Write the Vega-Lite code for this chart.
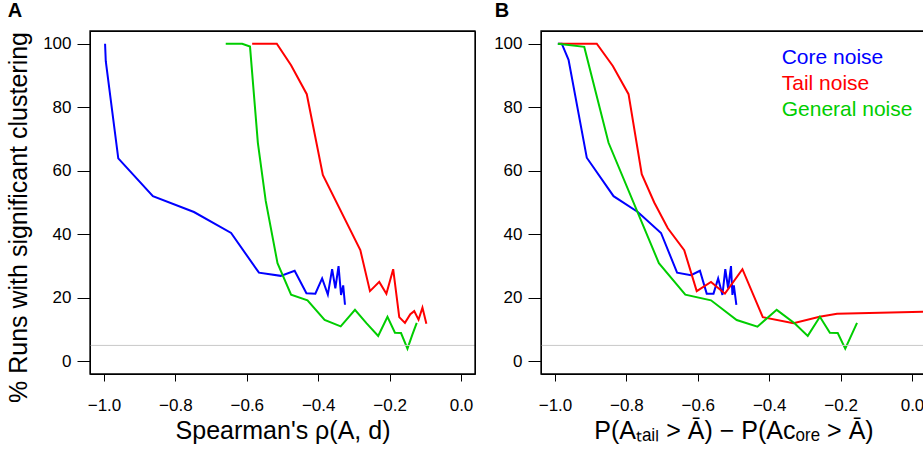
{
  "$schema": "https://vega.github.io/schema/vega-lite/v6.json",
  "padding": {"left": 6, "top": 0, "right": 0, "bottom": 0},
  "background": "white",
  "spacing": 16,
  "config": {
    "font": "Liberation Sans",
    "view": {"stroke": "black", "strokeWidth": 1},
    "axis": {"domain": false, "grid": false, "tickColor": "black", "tickWidth": 1, "labelColor": "black", "labelFontSize": 17, "labelFont": "Liberation Sans", "titleFont": "Liberation Sans", "titleFontSize": 25, "titleFontWeight": "normal", "titleColor": "black", "labelOverlap": false},
    "axisX": {"tickSize": 7, "labelPadding": 16, "titlePadding": 5},
    "axisY": {"tickSize": 13, "labelPadding": 6, "titlePadding": 11},
    "title": {"font": "Liberation Sans", "fontSize": 20, "fontWeight": "bold", "anchor": "start", "color": "black"}
  },
  "datasets": {
    "curves": [
      {"p":"A","n":"Core noise","i":1,"x":-0.997,"y":100},
      {"p":"A","n":"Core noise","i":2,"x":-0.995,"y":94.5},
      {"p":"A","n":"Core noise","i":3,"x":-0.960,"y":63.9},
      {"p":"A","n":"Core noise","i":4,"x":-0.863,"y":52},
      {"p":"A","n":"Core noise","i":5,"x":-0.748,"y":47},
      {"p":"A","n":"Core noise","i":6,"x":-0.644,"y":40.4},
      {"p":"A","n":"Core noise","i":7,"x":-0.566,"y":27.9},
      {"p":"A","n":"Core noise","i":8,"x":-0.505,"y":26.9},
      {"p":"A","n":"Core noise","i":9,"x":-0.466,"y":28.5},
      {"p":"A","n":"Core noise","i":10,"x":-0.433,"y":21.4},
      {"p":"A","n":"Core noise","i":11,"x":-0.408,"y":21.3},
      {"p":"A","n":"Core noise","i":12,"x":-0.389,"y":26.1},
      {"p":"A","n":"Core noise","i":13,"x":-0.373,"y":21},
      {"p":"A","n":"Core noise","i":14,"x":-0.361,"y":29},
      {"p":"A","n":"Core noise","i":15,"x":-0.352,"y":23},
      {"p":"A","n":"Core noise","i":16,"x":-0.343,"y":30},
      {"p":"A","n":"Core noise","i":17,"x":-0.336,"y":20.9},
      {"p":"A","n":"Core noise","i":18,"x":-0.330,"y":23.9},
      {"p":"A","n":"Core noise","i":19,"x":-0.325,"y":17.8},
      {"p":"A","n":"Tail noise","i":1,"x":-0.585,"y":100},
      {"p":"A","n":"Tail noise","i":2,"x":-0.516,"y":100},
      {"p":"A","n":"Tail noise","i":3,"x":-0.476,"y":93.2},
      {"p":"A","n":"Tail noise","i":4,"x":-0.432,"y":84.1},
      {"p":"A","n":"Tail noise","i":5,"x":-0.387,"y":58.7},
      {"p":"A","n":"Tail noise","i":6,"x":-0.282,"y":35},
      {"p":"A","n":"Tail noise","i":7,"x":-0.255,"y":22.1},
      {"p":"A","n":"Tail noise","i":8,"x":-0.229,"y":25},
      {"p":"A","n":"Tail noise","i":9,"x":-0.209,"y":21.3},
      {"p":"A","n":"Tail noise","i":10,"x":-0.190,"y":29},
      {"p":"A","n":"Tail noise","i":11,"x":-0.173,"y":13.9},
      {"p":"A","n":"Tail noise","i":12,"x":-0.157,"y":12.1},
      {"p":"A","n":"Tail noise","i":13,"x":-0.142,"y":14.8},
      {"p":"A","n":"Tail noise","i":14,"x":-0.131,"y":15.8},
      {"p":"A","n":"Tail noise","i":15,"x":-0.119,"y":13.1},
      {"p":"A","n":"Tail noise","i":16,"x":-0.108,"y":16.9},
      {"p":"A","n":"Tail noise","i":17,"x":-0.097,"y":11.8},
      {"p":"A","n":"General noise","i":1,"x":-0.659,"y":100},
      {"p":"A","n":"General noise","i":2,"x":-0.613,"y":100},
      {"p":"A","n":"General noise","i":3,"x":-0.591,"y":99.1},
      {"p":"A","n":"General noise","i":4,"x":-0.569,"y":68.8},
      {"p":"A","n":"General noise","i":5,"x":-0.547,"y":50.5},
      {"p":"A","n":"General noise","i":6,"x":-0.514,"y":30.9},
      {"p":"A","n":"General noise","i":7,"x":-0.476,"y":21},
      {"p":"A","n":"General noise","i":8,"x":-0.430,"y":19.2},
      {"p":"A","n":"General noise","i":9,"x":-0.382,"y":13},
      {"p":"A","n":"General noise","i":10,"x":-0.337,"y":11},
      {"p":"A","n":"General noise","i":11,"x":-0.297,"y":16.2},
      {"p":"A","n":"General noise","i":12,"x":-0.265,"y":12},
      {"p":"A","n":"General noise","i":13,"x":-0.232,"y":8},
      {"p":"A","n":"General noise","i":14,"x":-0.206,"y":14},
      {"p":"A","n":"General noise","i":15,"x":-0.185,"y":9},
      {"p":"A","n":"General noise","i":16,"x":-0.168,"y":8.9},
      {"p":"A","n":"General noise","i":17,"x":-0.150,"y":4},
      {"p":"A","n":"General noise","i":18,"x":-0.136,"y":8.5},
      {"p":"A","n":"General noise","i":19,"x":-0.124,"y":12.1},
      {"p":"B","n":"Core noise","i":1,"x":-0.992,"y":100},
      {"p":"B","n":"Core noise","i":2,"x":-0.981,"y":100},
      {"p":"B","n":"Core noise","i":3,"x":-0.962,"y":94.9},
      {"p":"B","n":"Core noise","i":4,"x":-0.911,"y":64.1},
      {"p":"B","n":"Core noise","i":5,"x":-0.836,"y":52},
      {"p":"B","n":"Core noise","i":6,"x":-0.768,"y":47},
      {"p":"B","n":"Core noise","i":7,"x":-0.703,"y":40.4},
      {"p":"B","n":"Core noise","i":8,"x":-0.658,"y":27.9},
      {"p":"B","n":"Core noise","i":9,"x":-0.619,"y":27.1},
      {"p":"B","n":"Core noise","i":10,"x":-0.594,"y":28.5},
      {"p":"B","n":"Core noise","i":11,"x":-0.575,"y":21.3},
      {"p":"B","n":"Core noise","i":12,"x":-0.556,"y":21.3},
      {"p":"B","n":"Core noise","i":13,"x":-0.543,"y":26.1},
      {"p":"B","n":"Core noise","i":14,"x":-0.531,"y":20.9},
      {"p":"B","n":"Core noise","i":15,"x":-0.523,"y":29},
      {"p":"B","n":"Core noise","i":16,"x":-0.515,"y":23},
      {"p":"B","n":"Core noise","i":17,"x":-0.507,"y":30},
      {"p":"B","n":"Core noise","i":18,"x":-0.503,"y":20.9},
      {"p":"B","n":"Core noise","i":19,"x":-0.499,"y":23.9},
      {"p":"B","n":"Core noise","i":20,"x":-0.492,"y":17.8},
      {"p":"B","n":"Tail noise","i":1,"x":-0.990,"y":100},
      {"p":"B","n":"Tail noise","i":2,"x":-0.883,"y":100},
      {"p":"B","n":"Tail noise","i":3,"x":-0.838,"y":93},
      {"p":"B","n":"Tail noise","i":4,"x":-0.794,"y":84.1},
      {"p":"B","n":"Tail noise","i":5,"x":-0.757,"y":58.9},
      {"p":"B","n":"Tail noise","i":6,"x":-0.722,"y":50},
      {"p":"B","n":"Tail noise","i":7,"x":-0.684,"y":41.9},
      {"p":"B","n":"Tail noise","i":8,"x":-0.638,"y":35},
      {"p":"B","n":"Tail noise","i":9,"x":-0.603,"y":22.1},
      {"p":"B","n":"Tail noise","i":10,"x":-0.563,"y":25},
      {"p":"B","n":"Tail noise","i":11,"x":-0.524,"y":21.3},
      {"p":"B","n":"Tail noise","i":12,"x":-0.475,"y":29},
      {"p":"B","n":"Tail noise","i":13,"x":-0.418,"y":13.9},
      {"p":"B","n":"Tail noise","i":14,"x":-0.332,"y":12},
      {"p":"B","n":"Tail noise","i":15,"x":-0.259,"y":14},
      {"p":"B","n":"Tail noise","i":16,"x":-0.210,"y":15},
      {"p":"B","n":"Tail noise","i":17,"x":0.040,"y":15.6},
      {"p":"B","n":"General noise","i":1,"x":-0.992,"y":100},
      {"p":"B","n":"General noise","i":2,"x":-0.918,"y":99},
      {"p":"B","n":"General noise","i":3,"x":-0.850,"y":68.8},
      {"p":"B","n":"General noise","i":4,"x":-0.709,"y":30.9},
      {"p":"B","n":"General noise","i":5,"x":-0.635,"y":21},
      {"p":"B","n":"General noise","i":6,"x":-0.563,"y":19.2},
      {"p":"B","n":"General noise","i":7,"x":-0.491,"y":13},
      {"p":"B","n":"General noise","i":8,"x":-0.433,"y":10.9},
      {"p":"B","n":"General noise","i":9,"x":-0.379,"y":16.2},
      {"p":"B","n":"General noise","i":10,"x":-0.329,"y":12},
      {"p":"B","n":"General noise","i":11,"x":-0.292,"y":8},
      {"p":"B","n":"General noise","i":12,"x":-0.258,"y":14},
      {"p":"B","n":"General noise","i":13,"x":-0.230,"y":9},
      {"p":"B","n":"General noise","i":14,"x":-0.208,"y":8.9},
      {"p":"B","n":"General noise","i":15,"x":-0.187,"y":4},
      {"p":"B","n":"General noise","i":16,"x":-0.154,"y":12.1}
    ]
  },
  "hconcat": [
    {
      "width": 385,
      "height": 343,
      "title": {"text": "A", "dx": 1, "offset": 9},
      "layer": [
        {
          "data": {"name": "curves"},
          "transform": [{"filter": "datum.p === 'A'"}],
          "mark": {"type": "line", "strokeWidth": 2, "clip": true},
          "encoding": {
            "x": {"field": "x", "type": "quantitative", "scale": {"domain": [-1.0392, 0.0392], "nice": false, "zero": false}, "axis": {"title": "Spearman's ρ(A, d)", "values": [-1, -0.8, -0.6, -0.4, -0.2, 0], "format": ".1f"}},
            "y": {"field": "y", "type": "quantitative", "scale": {"domain": [-4, 104], "nice": false}, "axis": {"title": "% Runs with significant clustering", "titleY": 186, "values": [0, 20, 40, 60, 80, 100]}},
            "color": {"field": "n", "type": "nominal", "scale": {"domain": ["Core noise", "Tail noise", "General noise"], "range": ["#0000ff", "#ff0000", "#00cd00"]}, "legend": null},
            "order": {"field": "i", "type": "quantitative"}
          }
        },
        {
          "data": {"values": [{"h": 5}]},
          "mark": {"type": "rule", "color": "#c8c8c8", "strokeWidth": 1},
          "encoding": {"y": {"field": "h", "type": "quantitative"}}
        },
        {
          "data": {"values": [{}]},
          "mark": {"type": "rect", "fill": "transparent", "stroke": "#000000", "strokeWidth": 1.3, "strokeOpacity": 1},
          "encoding": {"x": {"datum": -1.0392, "type": "quantitative"}, "x2": {"datum": 0.0392}, "y": {"datum": -4, "type": "quantitative"}, "y2": {"datum": 104}}
        }
      ]
    },
    {
      "width": 385,
      "height": 343,
      "title": {"text": "B", "dx": 1, "offset": 9},
      "layer": [
        {
          "data": {"name": "curves"},
          "transform": [{"filter": "datum.p === 'B'"}],
          "mark": {"type": "line", "strokeWidth": 2, "clip": true},
          "encoding": {
            "x": {"field": "x", "type": "quantitative", "scale": {"domain": [-1.0392, 0.0392], "nice": false, "zero": false}, "axis": {"title": "P(Aₜₐᵢₗ > Ā) − P(Aᴄₒᵣₑ > Ā)", "values": [-1, -0.8, -0.6, -0.4, -0.2, 0], "format": ".1f"}},
            "y": {"field": "y", "type": "quantitative", "scale": {"domain": [-4, 104], "nice": false}, "axis": {"title": null, "values": [0, 20, 40, 60, 80, 100]}},
            "color": {"field": "n", "type": "nominal", "scale": {"domain": ["Core noise", "Tail noise", "General noise"], "range": ["#0000ff", "#ff0000", "#00cd00"]}, "legend": null},
            "order": {"field": "i", "type": "quantitative"}
          }
        },
        {
          "data": {"values": [{"h": 5}]},
          "mark": {"type": "rule", "color": "#c8c8c8", "strokeWidth": 1},
          "encoding": {"y": {"field": "h", "type": "quantitative"}}
        },
        {
          "data": {"values": [{}]},
          "mark": {"type": "rect", "fill": "transparent", "stroke": "#000000", "strokeWidth": 1.3, "strokeOpacity": 1},
          "encoding": {"x": {"datum": -1.0392, "type": "quantitative"}, "x2": {"datum": 0.0392}, "y": {"datum": -4, "type": "quantitative"}, "y2": {"datum": 104}}
        },
        {
          "data": {"values": [{"n": "Core noise"}]},
          "mark": {"type": "text", "align": "left", "baseline": "alphabetic", "fontSize": 21, "font": "Liberation Sans"},
          "encoding": {"x": {"datum": -0.365, "type": "quantitative"}, "y": {"datum": 93.5, "type": "quantitative"}, "text": {"field": "n"}, "color": {"field": "n", "type": "nominal", "legend": null}}
        },
        {
          "data": {"values": [{"n": "Tail noise"}]},
          "mark": {"type": "text", "align": "left", "baseline": "alphabetic", "fontSize": 21, "font": "Liberation Sans"},
          "encoding": {"x": {"datum": -0.365, "type": "quantitative"}, "y": {"datum": 85.3, "type": "quantitative"}, "text": {"field": "n"}, "color": {"field": "n", "type": "nominal", "legend": null}}
        },
        {
          "data": {"values": [{"n": "General noise"}]},
          "mark": {"type": "text", "align": "left", "baseline": "alphabetic", "fontSize": 21, "font": "Liberation Sans"},
          "encoding": {"x": {"datum": -0.365, "type": "quantitative"}, "y": {"datum": 77.2, "type": "quantitative"}, "text": {"field": "n"}, "color": {"field": "n", "type": "nominal", "legend": null}}
        }
      ]
    }
  ]
}
